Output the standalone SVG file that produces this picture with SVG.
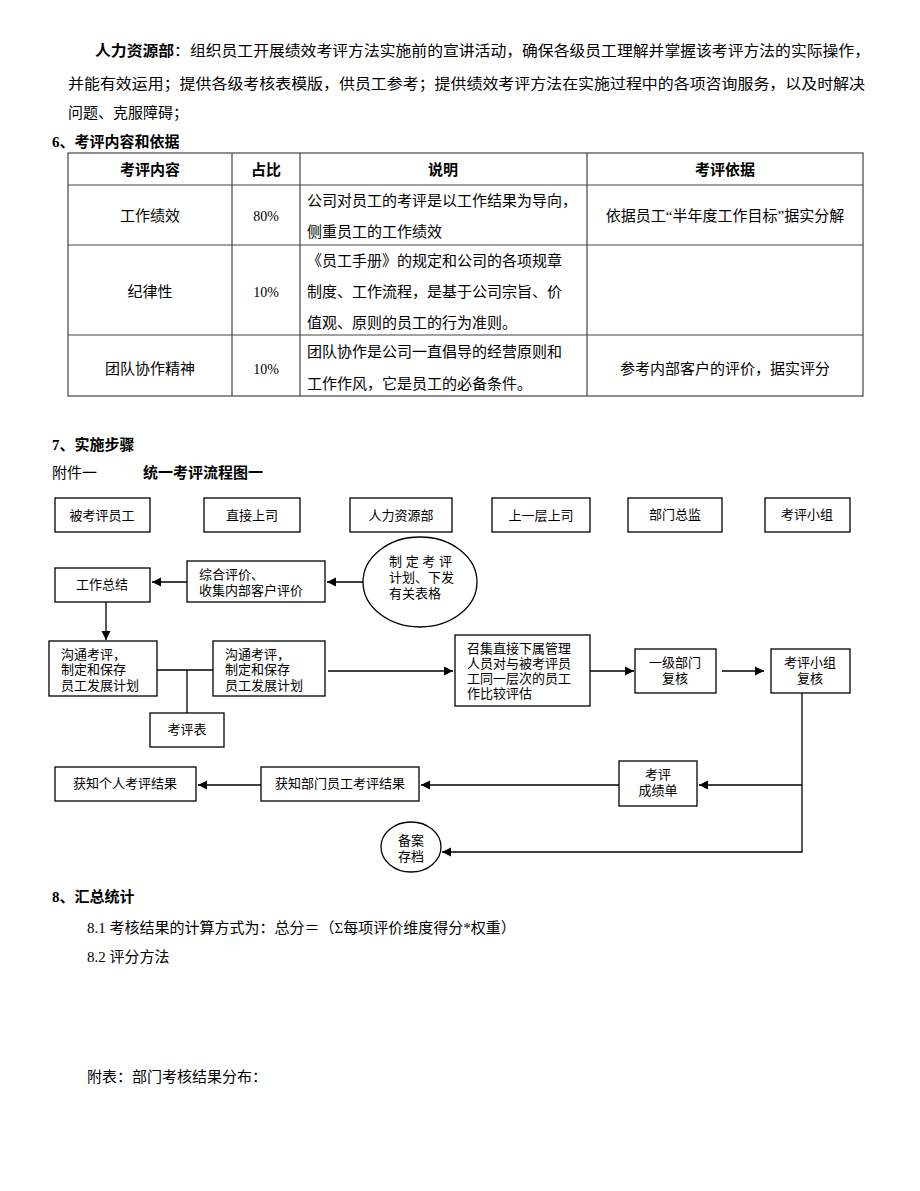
<svg xmlns="http://www.w3.org/2000/svg" width="920" height="1191" viewBox="0 0 920 1191">
<style>
.t{font-family:"Liberation Serif","Noto Sans CJK SC",serif;font-size:15px;fill:#000}
.b{font-weight:bold}
.c{text-anchor:middle}
.f{font-family:"Liberation Sans","Noto Sans CJK SC",sans-serif;font-size:13px;fill:#000}
.box{fill:#fff;stroke:#000;stroke-width:1.3}
.ln{fill:none;stroke:#000;stroke-width:1.3}
.tl{stroke:#444;stroke-width:1.2}
</style>
<defs><marker id="a" viewBox="0 0 10 10" refX="10" refY="5" markerWidth="7" markerHeight="7" orient="auto"><path d="M0,0L10,5L0,10z" fill="#000"/></marker></defs>
<rect width="920" height="1191" fill="#fff"/>
<text x="95" y="56" class="t" textLength="775" lengthAdjust="spacingAndGlyphs"><tspan class="b">人力资源部</tspan>：组织员工开展绩效考评方法实施前的宣讲活动，确保各级员工理解并掌握该考评方法的实际操作，</text>
<text x="68" y="89" class="t" textLength="797" lengthAdjust="spacingAndGlyphs">并能有效运用；提供各级考核表模版，供员工参考；提供绩效考评方法在实施过程中的各项咨询服务，以及时解决</text>
<text x="68" y="118" class="t">问题、克服障碍；</text>
<text x="52" y="147" class="t b">6、考评内容和依据</text>
<g id="table">
<rect x="68" y="153" width="795" height="243" fill="none" class="tl"/>
<line x1="68" y1="185" x2="863" y2="185" class="tl"/>
<line x1="68" y1="245" x2="863" y2="245" class="tl"/>
<line x1="68" y1="335" x2="863" y2="335" class="tl"/>
<line x1="232" y1="153" x2="232" y2="396" class="tl"/>
<line x1="300" y1="153" x2="300" y2="396" class="tl"/>
<line x1="587" y1="153" x2="587" y2="396" class="tl"/>
<text x="150" y="175" class="t b c">考评内容</text>
<text x="266" y="175" class="t b c">占比</text>
<text x="443" y="175" class="t b c">说明</text>
<text x="725" y="175" class="t b c">考评依据</text>
<text x="150" y="221" class="t c">工作绩效</text>
<text x="266" y="221" class="t c" style="font-size:14px">80%</text>
<text x="307" y="206" class="t">公司对员工的考评是以工作结果为导向，</text>
<text x="307" y="237" class="t">侧重员工的工作绩效</text>
<text x="725" y="221" class="t c">依据员工“半年度工作目标”据实分解</text>
<text x="150" y="297" class="t c">纪律性</text>
<text x="266" y="297" class="t c" style="font-size:14px">10%</text>
<text x="307" y="266" class="t">《员工手册》的规定和公司的各项规章</text>
<text x="307" y="297" class="t">制度、工作流程，是基于公司宗旨、价</text>
<text x="307" y="328" class="t">值观、原则的员工的行为准则。</text>
<text x="150" y="374" class="t c">团队协作精神</text>
<text x="266" y="374" class="t c" style="font-size:14px">10%</text>
<text x="307" y="357" class="t">团队协作是公司一直倡导的经营原则和</text>
<text x="307" y="389" class="t">工作作风，它是员工的必备条件。</text>
<text x="725" y="374" class="t c">参考内部客户的评价，据实评分</text>
</g>
<text x="52" y="450" class="t b">7、实施步骤</text>
<text x="52" y="478" class="t">附件一</text>
<text x="143" y="478" class="t b">统一考评流程图一</text>
<g id="connectors">
<line x1="363" y1="582" x2="327" y2="582" class="ln" marker-end="url(#a)"/>
<line x1="187" y1="582" x2="152" y2="582" class="ln" marker-end="url(#a)"/>
<line x1="106" y1="602" x2="106" y2="640" class="ln" marker-end="url(#a)"/>
<line x1="157" y1="670" x2="213" y2="670" class="ln"/>
<line x1="187" y1="670" x2="187" y2="713" class="ln"/>
<line x1="328" y1="671" x2="453" y2="671" class="ln" marker-end="url(#a)"/>
<line x1="590" y1="671" x2="634" y2="671" class="ln" marker-end="url(#a)"/>
<line x1="722" y1="671" x2="764" y2="671" class="ln" marker-end="url(#a)"/>
<polyline points="802,693 802,852 442,852" class="ln" marker-end="url(#a)"/>
<line x1="802" y1="785" x2="699" y2="785" class="ln" marker-end="url(#a)"/>
<line x1="619" y1="785" x2="421" y2="785" class="ln" marker-end="url(#a)"/>
<line x1="261" y1="785" x2="198" y2="785" class="ln" marker-end="url(#a)"/>
</g>
<g id="h1"><rect x="55" y="498" width="95" height="34" class="box"/><text x="102" y="520" class="f c">被考评员工</text></g>
<g id="h2"><rect x="204" y="498" width="96" height="34" class="box"/><text x="252" y="520" class="f c">直接上司</text></g>
<g id="h3"><rect x="350" y="498" width="102" height="34" class="box"/><text x="401" y="520" class="f c">人力资源部</text></g>
<g id="h4"><rect x="492" y="498" width="98" height="34" class="box"/><text x="541" y="520" class="f c">上一层上司</text></g>
<g id="h5"><rect x="628" y="498" width="94" height="34" class="box"/><text x="675" y="519" class="f c">部门总监</text></g>
<g id="h6"><rect x="765" y="498" width="85" height="34" class="box"/><text x="807" y="519" class="f c">考评小组</text></g>
<g id="plan"><ellipse cx="420" cy="582" rx="57" ry="45" class="box"/><text x="389" y="566" class="f" textLength="63" lengthAdjust="spacing">制定考评</text><text x="389" y="582" class="f">计划、下发</text><text x="389" y="598" class="f">有关表格</text></g>
<g id="zonghe"><rect x="187" y="561" width="138" height="41" class="box"/><text x="199" y="579" class="f">综合评价、</text><text x="199" y="595" class="f">收集内部客户评价</text></g>
<g id="zongjie"><rect x="55" y="568" width="95" height="34" class="box"/><text x="102" y="589" class="f c">工作总结</text></g>
<g id="goutong1"><rect x="49" y="641" width="108" height="55" class="box"/><text x="61" y="659" class="f">沟通考评，</text><text x="61" y="674" class="f">制定和保存</text><text x="61" y="690" class="f">员工发展计划</text></g>
<g id="goutong2"><rect x="213" y="641" width="112" height="55" class="box"/><text x="225" y="659" class="f">沟通考评，</text><text x="225" y="674" class="f">制定和保存</text><text x="225" y="690" class="f">员工发展计划</text></g>
<g id="biao"><rect x="150" y="713" width="74" height="34" class="box"/><text x="187" y="734" class="f c">考评表</text></g>
<g id="zhaoji"><rect x="455" y="635" width="135" height="71" class="box"/><text x="467" y="653" class="f">召集直接下属管理</text><text x="467" y="668" class="f">人员对与被考评员</text><text x="467" y="683" class="f">工同一层次的员工</text><text x="467" y="698" class="f">作比较评估</text></g>
<g id="yiji"><rect x="635" y="649" width="81" height="44" class="box"/><text x="675" y="667" class="f c">一级部门</text><text x="675" y="683" class="f c">复核</text></g>
<g id="xiaozu"><rect x="771" y="649" width="79" height="44" class="box"/><text x="810" y="667" class="f c">考评小组</text><text x="810" y="683" class="f c">复核</text></g>
<g id="chengji"><rect x="619" y="761" width="78" height="45" class="box"/><text x="658" y="779" class="f c">考评</text><text x="658" y="795" class="f c">成绩单</text></g>
<g id="bumen"><rect x="261" y="767" width="158" height="34" class="box"/><text x="340" y="788" class="f c">获知部门员工考评结果</text></g>
<g id="geren"><rect x="55" y="767" width="141" height="34" class="box"/><text x="125" y="788" class="f c">获知个人考评结果</text></g>
<g id="beian"><ellipse cx="411" cy="847" rx="30" ry="25" class="box"/><text x="411" y="845" class="f c">备案</text><text x="411" y="861" class="f c">存档</text></g>
<text x="52" y="902" class="t b">8、汇总统计</text>
<text x="87" y="933" class="t">8.1 考核结果的计算方式为：总分＝（Σ每项评价维度得分*权重）</text>
<text x="87" y="962" class="t">8.2 评分方法</text>
<text x="87" y="1082" class="t">附表：部门考核结果分布：</text>
</svg>
